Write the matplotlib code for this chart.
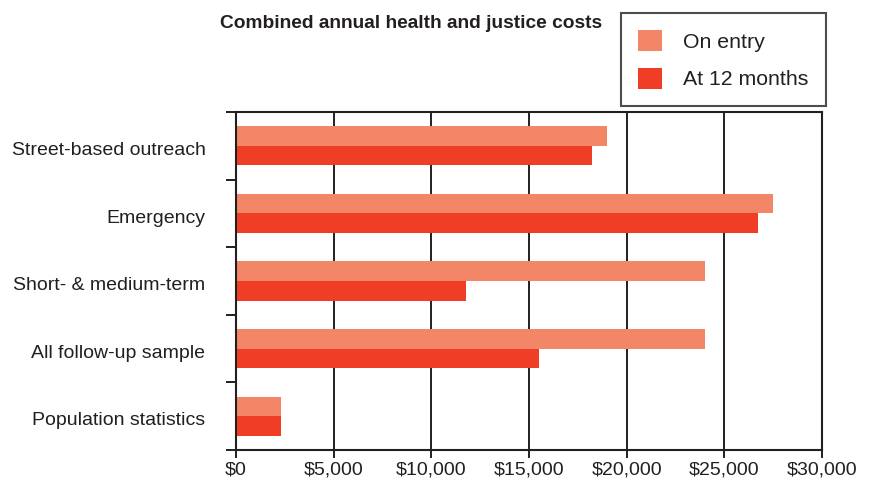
import numpy as np
import matplotlib.pyplot as plt

plt.rcParams['font.family'] = ['Liberation Sans', 'DejaVu Sans']

categories = ['Street-based outreach', 'Emergency', 'Short- & medium-term',
              'All follow-up sample', 'Population statistics']
on_entry = [19000, 27500, 24000, 24000, 2300]
at_12_months = [18250, 26700, 11800, 15500, 2300]
x_ticks = [0, 5000, 10000, 15000, 20000, 25000, 30000]
x_labels = ['$0', '$5,000', '$10,000', '$15,000', '$20,000', '$25,000', '$30,000']

c_entry = '#F48668'
c_12m = '#EF3E25'
ink = '#231F20'

fig = plt.figure(figsize=(8.75, 4.99), dpi=100)
ax = fig.add_axes([236 / 875, 1 - 450 / 499, 586 / 875, 338 / 499])

y = np.arange(len(categories))
h = 0.29
ax.barh(y - h / 2, on_entry, height=h, color=c_entry, label='On entry', zorder=1)
ax.barh(y + h / 2, at_12_months, height=h, color=c_12m, label='At 12 months', zorder=1)

ax.set_xlim(0, 30000)
ax.set_ylim(len(categories) - 0.5, -0.5)

# vertical grid lines at each $5,000
for xv in x_ticks[1:-1]:
    ax.axvline(xv, color=ink, lw=1.4, zorder=0)

ax.set_xticks(x_ticks)
ax.set_xticklabels(x_labels, fontsize=14)
ax.tick_params(axis='x', direction='out', length=6, width=1.4, color=ink, pad=2,
               labelcolor=ink)

# category boundaries get ticks, names sit at the centres
ax.set_yticks(np.arange(-0.5, len(categories), 1.0))
ax.set_yticklabels([])
ax.tick_params(axis='y', which='major', direction='out', length=7, width=1.4, color=ink)
ax.set_yticks(y + 0.04, minor=True)
ax.set_yticklabels(categories, minor=True, fontsize=14, color=ink)
ax.tick_params(axis='y', which='minor', length=0, pad=22)

for s in ax.spines.values():
    s.set_color(ink)
    s.set_linewidth(1.5)

fig.text(220 / 875, 1 - 24 / 499, 'Combined annual health and justice costs',
         fontsize=13.8, fontweight='bold', va='center', ha='left', color=ink)

leg = fig.legend(loc='upper left', bbox_to_anchor=(621 / 875, 1 - 13 / 499),
                 prop={'size': 15.3}, frameon=True, fancybox=False, edgecolor=ink,
                 handlelength=1.13, handleheight=1.15, handletextpad=1.0,
                 borderpad=0.8, labelspacing=0.75, borderaxespad=0)
leg.get_frame().set_linewidth(1.5)
for t in leg.get_texts():
    t.set_color(ink)

fig.savefig('out.png', dpi=100)
